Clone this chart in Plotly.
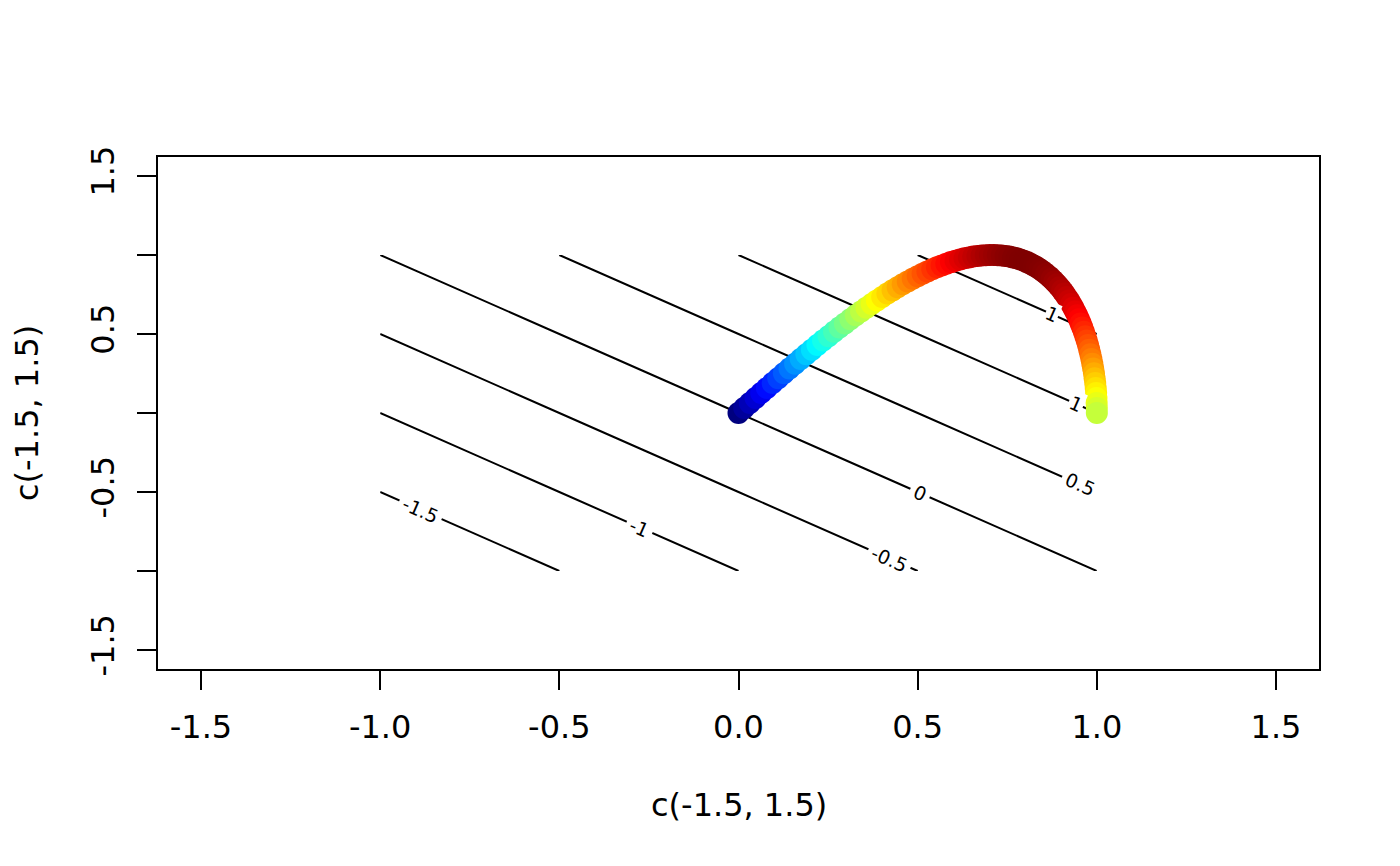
import plotly.graph_objects as go

# ---- contour surface (grid and values) ----
grid_x = [-1.0, -0.5, 0.0, 0.5, 1.0]
grid_y = [-1.0, -0.5, 0.0, 0.5, 1.0]
grid_z = [
    [-2.0, -1.5, -1.0, -0.5, 0.0],
    [-1.5, -1.0, -0.5, 0.0, 0.5],
    [-1.0, -0.5, 0.0, 0.5, 1.0],
    [-0.5, 0.0, 0.5, 1.0, 1.5],
    [0.0, 0.5, 1.0, 1.5, 2.0],
]
contour_levels = [-1.5, -1.0, -0.5, 0.0, 0.5, 1.0, 1.5]

# contour label texts and where they sit on their lines
label_text = ["-1.5", "-1", "-0.5", "0", "0.5", "1", "1"]
label_x = [-0.887, -0.275, 0.421, 0.506, 0.952, 0.943, 0.874]
label_y = [-0.613, -0.725, -0.921, -0.506, -0.452, 0.057, 0.626]
label_pad = [4, 4, 4, 4, 4, 1, 0]

# ---- path of points ----
path_x = [0.0000, 0.0159, 0.0317, 0.0476, 0.0634, 0.0792, 0.0951, 0.1108, 0.1266, 0.1423,
          0.1580, 0.1736, 0.1893, 0.2048, 0.2203, 0.2358, 0.2511, 0.2665, 0.2817, 0.2969,
          0.3120, 0.3271, 0.3420, 0.3569, 0.3717, 0.3863, 0.4009, 0.4154, 0.4298, 0.4441,
          0.4582, 0.4723, 0.4862, 0.5000, 0.5137, 0.5272, 0.5406, 0.5539, 0.5671, 0.5801,
          0.5929, 0.6056, 0.6182, 0.6306, 0.6428, 0.6549, 0.6668, 0.6785, 0.6901, 0.7015,
          0.7127, 0.7237, 0.7346, 0.7453, 0.7557, 0.7660, 0.7761, 0.7861, 0.7958, 0.8053,
          0.8146, 0.8237, 0.8326, 0.8413, 0.8497, 0.8580, 0.8660, 0.8738, 0.8815, 0.8888,
          0.8960, 0.9029, 0.9096, 0.9161, 0.9224, 0.9284, 0.9341, 0.9397, 0.9450, 0.9501,
          0.9549, 0.9595, 0.9638, 0.9679, 0.9718, 0.9754, 0.9788, 0.9819, 0.9848, 0.9874,
          0.9898, 0.9920, 0.9938, 0.9955, 0.9969, 0.9980, 0.9989, 0.9995, 0.9999, 1.0000]
path_y = [0.0000, 0.0317, 0.0634, 0.0951, 0.1266, 0.1580, 0.1893, 0.2203, 0.2511, 0.2817,
          0.3120, 0.3420, 0.3717, 0.4009, 0.4298, 0.4582, 0.4862, 0.5137, 0.5406, 0.5671,
          0.5929, 0.6182, 0.6428, 0.6668, 0.6901, 0.7127, 0.7346, 0.7557, 0.7761, 0.7958,
          0.8146, 0.8326, 0.8497, 0.8660, 0.8815, 0.8960, 0.9096, 0.9224, 0.9341, 0.9450,
          0.9549, 0.9638, 0.9718, 0.9788, 0.9848, 0.9898, 0.9938, 0.9969, 0.9989, 0.9999,
          0.9999, 0.9989, 0.9969, 0.9938, 0.9898, 0.9848, 0.9788, 0.9718, 0.9638, 0.9549,
          0.9450, 0.9341, 0.9224, 0.9096, 0.8960, 0.8815, 0.8660, 0.8497, 0.8326, 0.8146,
          0.7958, 0.7761, 0.7557, 0.7346, 0.7127, 0.6901, 0.6668, 0.6428, 0.6182, 0.5929,
          0.5671, 0.5406, 0.5137, 0.4862, 0.4582, 0.4298, 0.4009, 0.3717, 0.3420, 0.3120,
          0.2817, 0.2511, 0.2203, 0.1893, 0.1580, 0.1266, 0.0951, 0.0634, 0.0317, 0.0000]
# surface value at each point (drives the colour)
path_value = [0.0000, 0.0476, 0.0951, 0.1427, 0.1900, 0.2372, 0.2844, 0.3311, 0.3777, 0.4240,
              0.4700, 0.5156, 0.5610, 0.6057, 0.6501, 0.6940, 0.7373, 0.7802, 0.8223, 0.8640,
              0.9049, 0.9453, 0.9848, 1.0237, 1.0618, 1.0990, 1.1355, 1.1711, 1.2059, 1.2399,
              1.2728, 1.3049, 1.3359, 1.3660, 1.3952, 1.4232, 1.4502, 1.4763, 1.5012, 1.5251,
              1.5478, 1.5694, 1.5900, 1.6094, 1.6276, 1.6447, 1.6606, 1.6754, 1.6890, 1.7014,
              1.7126, 1.7226, 1.7315, 1.7391, 1.7455, 1.7508, 1.7549, 1.7579, 1.7596, 1.7602,
              1.7596, 1.7578, 1.7550, 1.7509, 1.7457, 1.7395, 1.7320, 1.7235, 1.7141, 1.7034,
              1.6918, 1.6790, 1.6653, 1.6507, 1.6351, 1.6185, 1.6009, 1.5825, 1.5632, 1.5430,
              1.5220, 1.5001, 1.4775, 1.4541, 1.4300, 1.4052, 1.3797, 1.3536, 1.3268, 1.2994,
              1.2715, 1.2431, 1.2141, 1.1848, 1.1549, 1.1246, 1.0940, 1.0629, 1.0316, 1.0000]

tick_vals = [-1.5, -1.0, -0.5, 0.0, 0.5, 1.0, 1.5]
x_tick_text = ["-1.5", "-1.0", "-0.5", "0.0", "0.5", "1.0", "1.5"]
y_tick_text = ["-1.5", "", "-0.5", "", "0.5", "", "1.5"]
axis_title = "c(-1.5, 1.5)"

jet = ["#00007F", "#0000FF", "#007FFF", "#00FFFF", "#7FFF7F",
       "#FFFF00", "#FF7F00", "#FF0000", "#7F0000"]
jet_scale = [[i / (len(jet) - 1), c] for i, c in enumerate(jet)]

FONT = "DejaVu Sans"

fig = go.Figure()
fig.add_trace(go.Contour(
    x=grid_x, y=grid_y, z=grid_z,
    contours=dict(coloring="none", start=contour_levels[0], end=contour_levels[-1],
                  size=0.5, showlabels=False),
    line=dict(color="black", width=2),
    showscale=False, hoverinfo="skip",
))
fig.add_trace(go.Scatter(
    x=path_x, y=path_y, mode="markers",
    marker=dict(size=22, color=path_value, colorscale=jet_scale,
                cmin=min(path_value), cmax=max(path_value),
                line=dict(width=0), opacity=1),
    showlegend=False, hoverinfo="skip",
))

for t, lx, ly, pad in zip(label_text, label_x, label_y, label_pad):
    fig.add_annotation(x=lx, y=ly, xref="x", yref="y", text=t, showarrow=False,
                       textangle=23.8, bgcolor="white", borderpad=pad,
                       font=dict(family=FONT, size=19, color="black"))

fig.add_annotation(x=0.5, y=0, xref="paper", yref="paper", text=axis_title,
                   showarrow=False, yanchor="middle", yshift=-136,
                   font=dict(family=FONT, size=32, color="black"))
fig.add_annotation(x=0, y=0.5, xref="paper", yref="paper", text=axis_title,
                   showarrow=False, xanchor="center", xshift=-131, textangle=-90,
                   font=dict(family=FONT, size=32, color="black"))

axis_common = dict(
    showgrid=False, zeroline=False, showline=True, linecolor="black", linewidth=2,
    mirror=True, ticks="outside", ticklen=19, tickwidth=2, tickcolor="black",
    tickfont=dict(family=FONT, size=32, color="black"),
    tickvals=tick_vals, range=[-1.62, 1.62], ticklabelstandoff=10, automargin=False,
)
fig.update_xaxes(**axis_common, ticktext=x_tick_text)
fig.update_yaxes(**axis_common, ticktext=y_tick_text, tickangle=-90)

fig.update_layout(
    width=1400, height=866,
    margin=dict(l=150, r=89, t=149, b=205),
    paper_bgcolor="white", plot_bgcolor="white",
    showlegend=False,
    font=dict(family=FONT, size=32, color="black"),
)

fig.write_html("out.html")
